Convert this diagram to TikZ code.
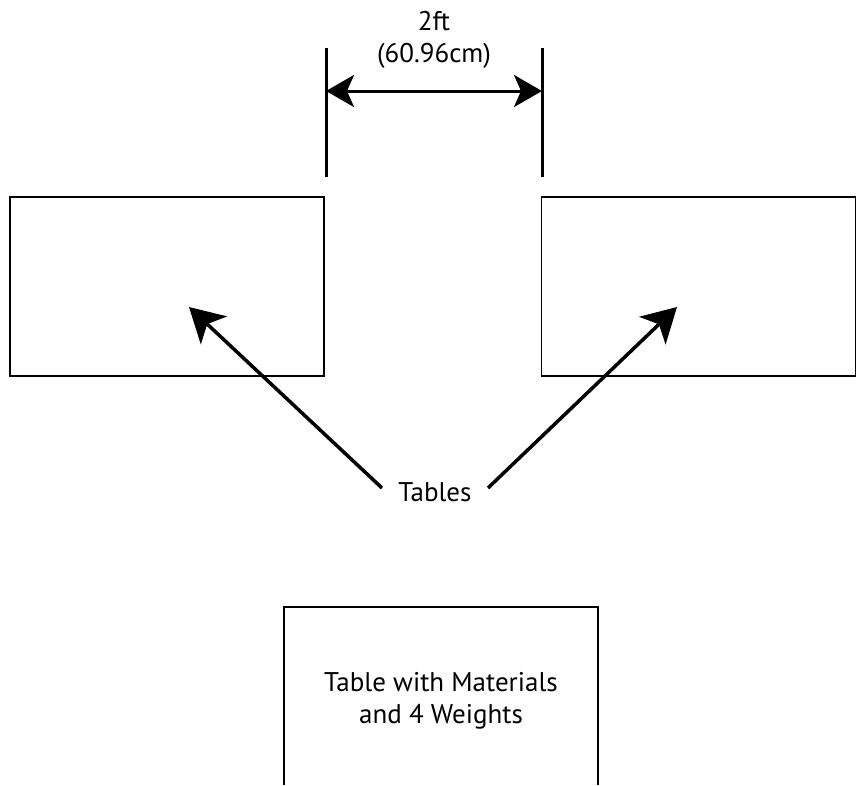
\documentclass[tikz,border=0pt]{standalone}
\usepackage{fontspec}
\setmainfont{PT Sans}
\usetikzlibrary{arrows.meta,positioning}

\begin{document}
\begin{tikzpicture}[x=1pt,y=-1pt,
    table/.style={draw,line width=1.5pt,minimum width=314pt,minimum height=179pt,inner sep=0pt},
    label/.style={font=\fontsize{27}{32}\selectfont,align=center,inner sep=0pt},
    dimline/.style={line width=3pt},
    dimarrow/.style={line width=3pt,{Stealth[length=28pt,width=32pt,inset=7pt]}-{Stealth[length=28pt,width=32pt,inset=7pt]}},
    pointer/.style={line width=3.5pt,-{Stealth[length=34pt,width=38pt,inset=9pt]}}]
  \useasboundingbox (0,0) rectangle (857,785);

  % the two tables
  \node[table] (TableL) at (167,286.5) {};
  \node[table] (TableR) at (698.5,286.5) {};

  % dimension between the tables
  \coordinate (DimLTop) at (326,48);
  \coordinate (DimLBot) at (326,177);
  \coordinate (DimRTop) at (542,48);
  \coordinate (DimRBot) at (542,177);
  \coordinate (DimL) at (326,91);
  \coordinate (DimR) at (542,91);
  \draw[dimline] (DimLTop) -- (DimLBot);
  \draw[dimline] (DimRTop) -- (DimRBot);
  \draw[dimarrow] (DimL) -- (DimR);
  \node[label] (Dist) at (434,40) {2ft\\(60.96cm)};

  % pointers to the tables
  \node[label] (Tables) at (435,492) {Tables};
  \coordinate (TipL) at (189,307);
  \coordinate (TipR) at (677,307);
  \coordinate (StartL) at (382,488);
  \coordinate (StartR) at (488,488);
  \draw[pointer] (StartL) -- (TipL);
  \draw[pointer] (StartR) -- (TipR);

  % table with the materials, cut off at the bottom
  \node[label] (Materials) at (441,701) {Table with Materials\\and 4 Weights};
  \coordinate (MatBL) at (284,785);
  \coordinate (MatTL) at (284,607);
  \coordinate (MatTR) at (598,607);
  \coordinate (MatBR) at (598,785);
  \draw[line width=1.5pt] (MatBL) -- (MatTL) -- (MatTR) -- (MatBR);
\end{tikzpicture}
\end{document}
